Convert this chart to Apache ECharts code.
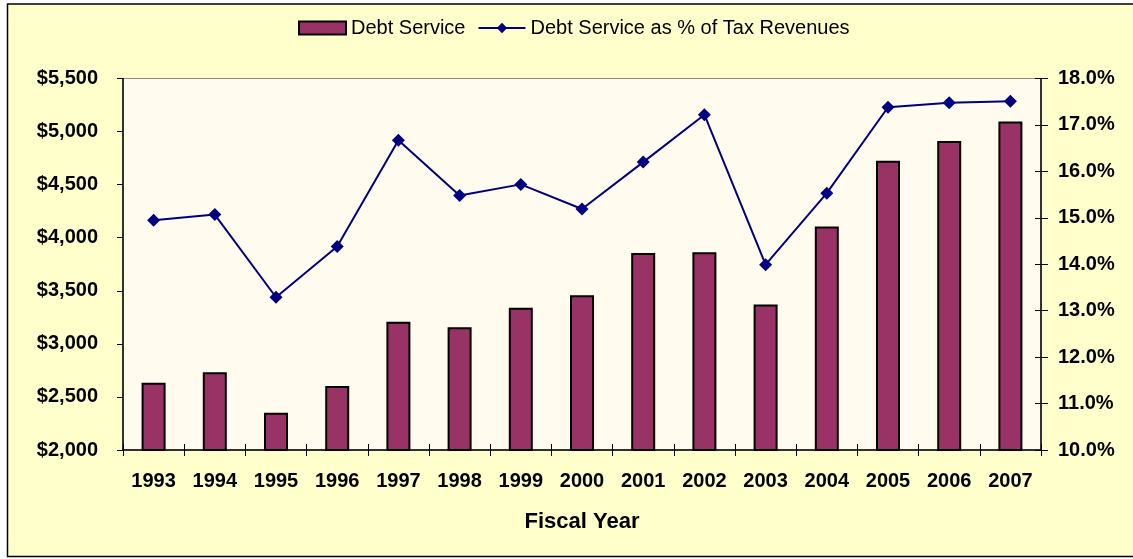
<!DOCTYPE html>
<html>
<head>
<meta charset="utf-8">
<style>
  html, body { margin: 0; padding: 0; background: #ffffff; }
  #chart { width: 1133px; height: 559px; }
</style>
<script src="https://cdn.jsdelivr.net/npm/echarts@6/dist/echarts.min.js"></script>
</head>
<body>
<div id="chart"></div>
<script>
// Fiscal years on the category axis
const years = ['1993', '1994', '1995', '1996', '1997', '1998', '1999', '2000',
               '2001', '2002', '2003', '2004', '2005', '2006', '2007'];

// Debt service, millions of dollars (left axis)
const debtService = [2634, 2732, 2352, 2603, 3209, 3156, 3341, 3458,
                     3857, 3863, 3370, 4105, 4724, 4912, 5095];

// Debt service as a share of tax revenues, percent (right axis)
const debtPctOfTax = [14.95, 15.07, 13.29, 14.38, 16.67, 15.48, 15.72, 15.19,
                      16.20, 17.22, 13.99, 15.53, 17.38, 17.48, 17.51];

// Axis ranges
const dollarMin = 2000, dollarMax = 5500, dollarStep = 500;
const pctMin = 10, pctMax = 18, pctStep = 1;

const FONT = "'Liberation Sans', Arial, Helvetica, sans-serif";

const chart = echarts.init(document.getElementById('chart'), null, { renderer: 'canvas' });

chart.setOption({
  animation: false,
  backgroundColor: '#ffffff',
  textStyle: { fontFamily: FONT, color: '#000000' },
  graphic: [{
    type: 'rect',
    z: -10,
    silent: true,
    shape: { x: 7.5, y: 4, width: 1140, height: 552.5 },
    style: { fill: '#FFFFCC', stroke: '#000000', lineWidth: 1.5 }
  }],
  legend: {
    left: 298,
    top: 18,
    padding: 0,
    itemWidth: 47,
    itemHeight: 13,
    itemGap: 12,
    textStyle: { fontFamily: FONT, fontSize: 20, color: '#000000', padding: [0, 0, 0, 0] },
    data: [
      { name: 'Debt Service', icon: 'rect' },
      { name: 'Debt Service as % of Tax Revenues' }
    ]
  },
  grid: {
    left: 123,
    right: 92,
    top: 78.5,
    bottom: 109,
    show: true,
    backgroundColor: '#FFFBEF',
    borderColor: '#8a8a8a',
    borderWidth: 1
  },
  xAxis: [{
    type: 'category',
    data: years,
    boundaryGap: true,
    name: 'Fiscal Year',
    nameLocation: 'middle',
    nameGap: 61,
    nameTextStyle: { fontFamily: FONT, fontSize: 22, fontWeight: 'bold', color: '#000000' },
    axisLine: { show: true, lineStyle: { color: '#000000', width: 1.5 } },
    axisTick: { show: true, length: 6, lineStyle: { color: '#000000', width: 1 } },
    axisLabel: { fontFamily: FONT, fontSize: 20, fontWeight: 'bold', color: '#000000', margin: 21 },
    splitLine: { show: false }
  }, {
    // inward half of the crossing tick marks
    type: 'category',
    data: years,
    position: 'bottom',
    boundaryGap: true,
    axisLine: { show: false },
    axisTick: { show: true, inside: true, length: 6, lineStyle: { color: '#000000', width: 1 } },
    axisLabel: { show: false },
    splitLine: { show: false }
  }],
  yAxis: [{
    type: 'value',
    min: dollarMin,
    max: dollarMax,
    interval: dollarStep,
    position: 'left',
    axisLine: { show: true, lineStyle: { color: '#000000', width: 1.5 } },
    axisTick: { show: true, length: 6, lineStyle: { color: '#000000', width: 1 } },
    axisLabel: {
      fontFamily: FONT, fontSize: 20, fontWeight: 'bold', color: '#000000', margin: 25,
      formatter: v => '$' + v.toLocaleString('en-US')
    },
    splitLine: { show: false }
  }, {
    type: 'value',
    min: pctMin,
    max: pctMax,
    interval: pctStep,
    position: 'right',
    axisLine: { show: true, lineStyle: { color: '#000000', width: 1.5 } },
    axisTick: { show: true, length: 7, lineStyle: { color: '#000000', width: 1 } },
    axisLabel: {
      fontFamily: FONT, fontSize: 20, fontWeight: 'bold', color: '#000000', margin: 17,
      formatter: v => v.toFixed(1) + '%'
    },
    splitLine: { show: false }
  }, {
    // inward half of the crossing tick marks on the percent axis
    type: 'value',
    min: pctMin,
    max: pctMax,
    interval: pctStep,
    position: 'right',
    axisLine: { show: false },
    axisTick: { show: true, inside: true, length: 6, lineStyle: { color: '#000000', width: 1 } },
    axisLabel: { show: false },
    splitLine: { show: false }
  }],
  series: [{
    name: 'Debt Service',
    type: 'bar',
    xAxisIndex: 0,
    yAxisIndex: 0,
    data: debtService,
    barWidth: 24,
    itemStyle: { color: '#993366', borderColor: '#000000', borderWidth: 2 },
    z: 2
  }, {
    name: 'Debt Service as % of Tax Revenues',
    type: 'line',
    xAxisIndex: 0,
    yAxisIndex: 1,
    data: debtPctOfTax,
    symbol: 'diamond',
    symbolSize: 13,
    showAllSymbol: true,
    lineStyle: { color: '#000080', width: 2 },
    itemStyle: { color: '#000080' },
    z: 3
  }]
});
</script>
</body>
</html>
